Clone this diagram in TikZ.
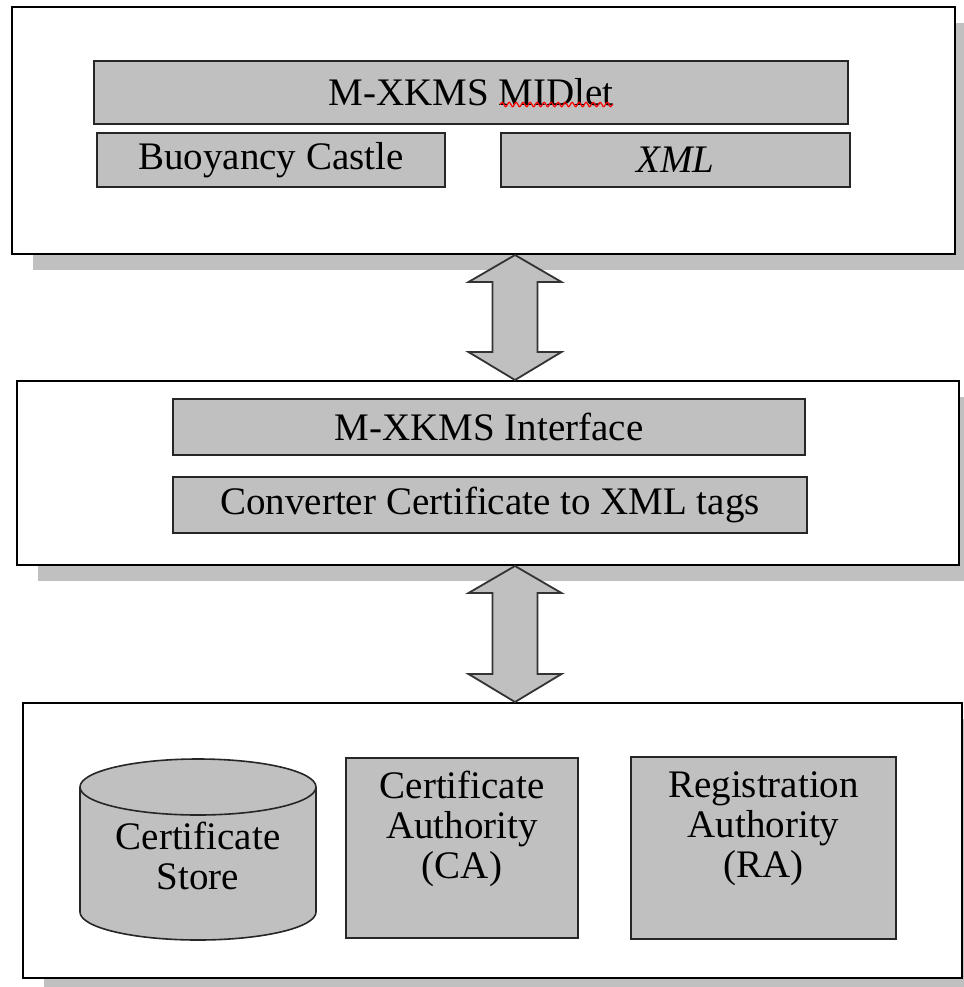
\documentclass[tikz,border=0pt]{standalone}
\usepackage{fontspec}
\setmainfont{Liberation Serif}
\usetikzlibrary{calc,shadows,decorations.pathmorphing}
\definecolor{panelgray}{HTML}{C0C0C0}
\definecolor{shadegray}{HTML}{C0C0C0}

\begin{document}
\begin{tikzpicture}[x=0.5pt,y=-0.5pt,
  layer/.style={draw=black, line width=1pt, fill=white, inner sep=0pt,
    drop shadow={shadow xshift=10.5pt, shadow yshift=-8pt, opacity=1, fill=shadegray, draw=none}},
  module/.style={draw=black!85, line width=1.2pt, fill=panelgray, inner sep=0pt,
    font=\fontsize{19.5}{20}\selectfont},
  caption/.style={align=center, inner sep=0pt, font=\fontsize{19.5}{20}\selectfont},
  drum/.style={draw=black!85, line width=0.8pt, fill=panelgray},
  link/.style={draw=black!80, line width=0.9pt, fill=panelgray, line join=miter}
]
% canvas
\fill[white] (0,0) rectangle (964,987);
\useasboundingbox (0,0) rectangle (964,987);

% client layer
\node[layer, minimum width=471.5pt, minimum height=123.5pt] (client) at (483.5,130.5) {};
\node[module, minimum width=377pt, minimum height=31.5pt] (midlet) at (471,92.5) {M-XKMS MIDlet};
\node[module, minimum width=174pt, minimum height=27pt] (bc) at (271,160) {Buoyancy Castle};
\node[module, minimum width=174.5pt, minimum height=27pt] (xml) at (675.5,160) {\itshape XML};
\draw[red, line width=0.6pt, decorate, decoration={snake, amplitude=1.1pt, segment length=3.5pt}]
  ($(midlet.center)+(29,12)$) -- ($(midlet.center)+(142,12)$);

% interface layer
\node[layer, minimum width=471pt, minimum height=92pt] (iface) at (488,473) {};
\node[module, minimum width=316pt, minimum height=28pt] (mx) at (489,427) {M-XKMS Interface};
\node[module, minimum width=317pt, minimum height=28pt] (conv) at (490,505) {Converter Certificate to XML tags};

% PKI layer
\node[layer, minimum width=469.5pt, minimum height=137.5pt] (server) at (492.5,840.5) {};
% certificate store drum
\draw[drum] (80,787) -- (80,912)
  arc[start angle=180, end angle=360, x radius=59pt, y radius=14pt]
  -- (316,787)
  arc[start angle=0, end angle=180, x radius=59pt, y radius=14pt] -- cycle;
\draw[drum, fill=none] (80,787) arc[start angle=180, end angle=360, x radius=59pt, y radius=14pt];
\node[caption] (store) at (198,855.5) {Certificate\\Store};
\node[module, minimum width=116pt, minimum height=90pt] (ca) at (462,848) {};
\node[caption] (catext) at (462,829) {Certificate\\Authority\\(CA)};
\node[module, minimum width=132.5pt, minimum height=91pt] (ra) at (763.5,848) {};
\node[caption] (ratext) at (763.5,829) {Registration\\Authority\\(RA)};

% double-headed block arrows between layers
\coordinate (axis) at (515,0);
\draw[link] (axis |- client.south) coordinate (t1)
  -- ($(t1)+(46.5,27)$) -- ($(t1)+(22.5,27)$)
  -- ($(axis |- iface.north)+(22.5,-28)$) -- ($(axis |- iface.north)+(46.5,-28)$)
  -- (axis |- iface.north)
  -- ($(axis |- iface.north)+(-46.5,-28)$) -- ($(axis |- iface.north)+(-22.5,-28)$)
  -- ($(t1)+(-22.5,27)$) -- ($(t1)+(-46.5,27)$) -- cycle;
\draw[link] (axis |- iface.south) coordinate (t2)
  -- ($(t2)+(46.5,27)$) -- ($(t2)+(22.5,27)$)
  -- ($(axis |- server.north)+(22.5,-28)$) -- ($(axis |- server.north)+(46.5,-28)$)
  -- (axis |- server.north)
  -- ($(axis |- server.north)+(-46.5,-28)$) -- ($(axis |- server.north)+(-22.5,-28)$)
  -- ($(t2)+(-22.5,27)$) -- ($(t2)+(-46.5,27)$) -- cycle;
\end{tikzpicture}
\end{document}
